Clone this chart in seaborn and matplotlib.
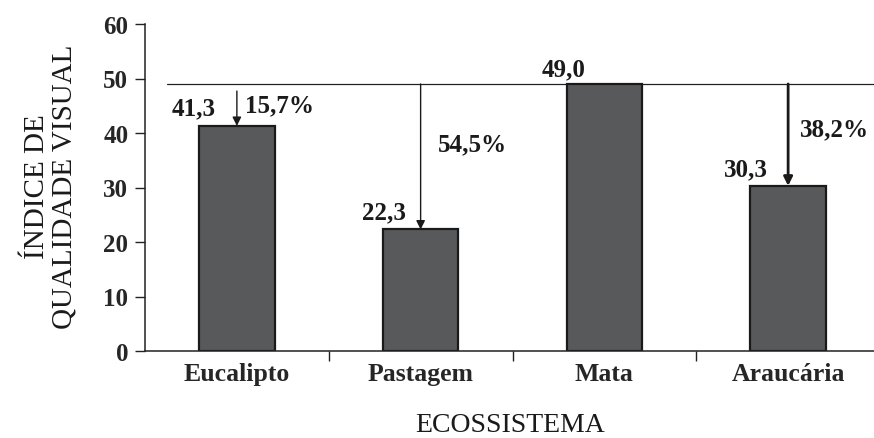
import matplotlib
matplotlib.use("Agg")
import matplotlib.pyplot as plt
import seaborn as sns
import pandas as pd

# Visual quality index per ecosystem
ecossistemas = ["Eucalipto", "Pastagem", "Mata", "Araucária"]
indice = [41.3, 22.3, 49.0, 30.3]
valor_rotulos = ["41,3", "22,3", "49,0", "30,3"]
reducao_rotulos = ["15,7%", "54,5%", None, "38,2%"]
referencia = 49.0
y_ticks = [0, 10, 20, 30, 40, 50, 60]

sns.set_theme(style="ticks")
plt.rcParams["font.family"] = ["Liberation Serif", "DejaVu Serif"]

df = pd.DataFrame({"eco": ecossistemas, "val": indice})

fig = plt.figure(figsize=(8.74, 4.39), dpi=100)
ax = fig.add_axes([145 / 874, 1 - 352 / 439, 735 / 874, 327 / 439])

sns.barplot(data=df, x="eco", y="val", ax=ax, color="#58595b", width=0.41,
            saturation=1, edgecolor="#1a1a1a", linewidth=1.6, zorder=2)

ax.set_ylim(0, 60)
ax.set_xlim(-0.5, 3.5)
ax.set_yticks(y_ticks)
ax.set_yticklabels([str(t) for t in y_ticks], fontsize=18, fontweight="bold")

# category labels without marks; ticks at category boundaries
ax.set_xticks(range(len(ecossistemas)))
ax.set_xticklabels(ecossistemas, fontsize=18.5, fontweight="bold")
ax.tick_params(axis="x", which="major", length=0, pad=8)
ax.set_xticks([0.5, 1.5, 2.5], minor=True)
ax.tick_params(axis="x", which="minor", length=7, width=1, color="#222222")
ax.tick_params(axis="y", length=7, width=1, color="#222222", pad=5)

for s in ["top", "right"]:
    ax.spines[s].set_visible(False)
for s in ["left", "bottom"]:
    ax.spines[s].set_linewidth(1.1)
    ax.spines[s].set_color("#222222")

ax.set_xlabel("ECOSSISTEMA", fontsize=20, color="#1a1a1a")
ax.xaxis.set_label_coords(0.497, -0.186)
ax.set_ylabel("ÍNDICE DE\nQUALIDADE VISUAL", fontsize=21, color="#1a1a1a",
              linespacing=1.05)
ax.yaxis.set_label_coords(-0.092, 0.506)

# reference level (Mata)
ax.axhline(referencia, xmin=0.03, xmax=1, color="#222222",
           linewidth=0.9, zorder=1)

# arrows from the reference level down to each bar
arrow_start = [47.7, referencia, None, referencia]
arrow_lw = [1.0, 1.0, None, 2.0]
for i, (v, y0, lw) in enumerate(zip(indice, arrow_start, arrow_lw)):
    if y0 is None:
        continue
    ax.annotate("", xy=(i, v), xytext=(i, y0),
                arrowprops=dict(arrowstyle="-|>", color="#1a1a1a", lw=lw,
                                mutation_scale=13, shrinkA=0, shrinkB=0),
                zorder=3)

lab_kw = dict(fontsize=18, fontweight="bold", color="#1a1a1a",
              ha="center", va="center")
# value labels
ax.text(0 - 0.234, 44.6, valor_rotulos[0], **lab_kw)
ax.text(1 - 0.20, 25.6, valor_rotulos[1], **lab_kw)
ax.text(2 - 0.22, 51.8, valor_rotulos[2], **lab_kw)
ax.text(3 - 0.23, 33.5, valor_rotulos[3], **lab_kw)
# reduction labels
ax.text(0 + 0.23, 45.1, reducao_rotulos[0], **lab_kw)
ax.text(1 + 0.28, 38.1, reducao_rotulos[1], **lab_kw)
ax.text(3 + 0.255, 40.8, reducao_rotulos[3], **lab_kw)

fig.savefig("out.png", dpi=100)
